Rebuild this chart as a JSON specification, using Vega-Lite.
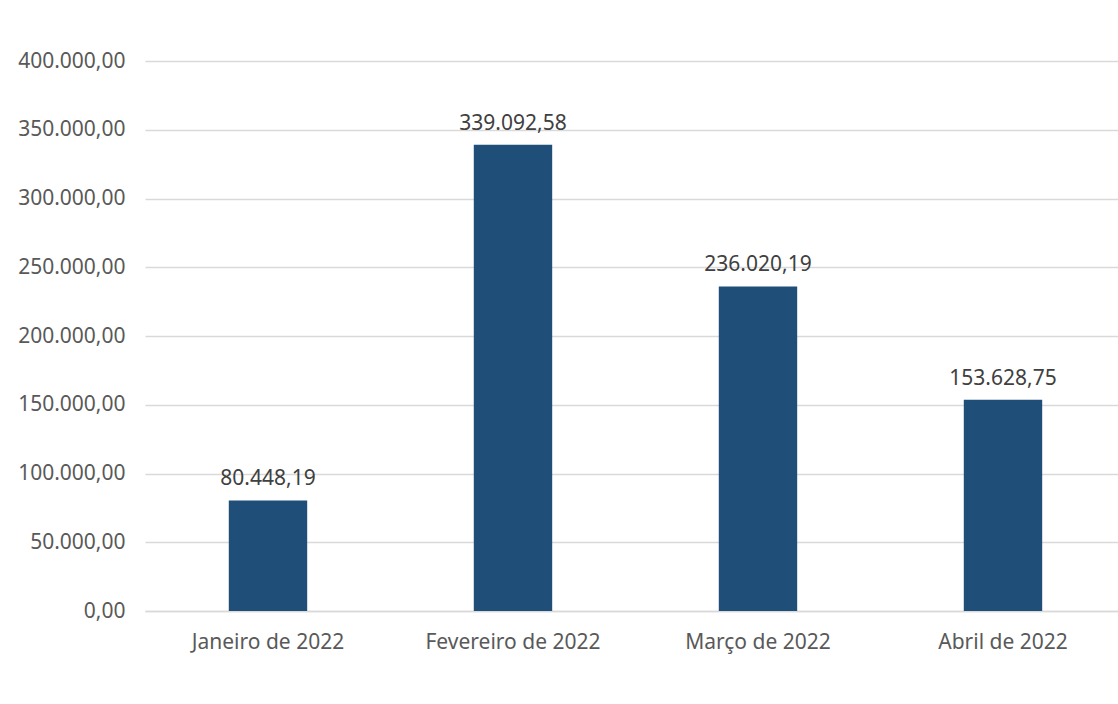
{
  "$schema": "https://vega.github.io/schema/vega-lite/v6.json",
  "autosize": {"type": "none"},
  "width": 973,
  "height": 550,
  "padding": {"left": 145, "top": 61, "right": 0, "bottom": 43},
  "background": "white",
  "config": {
    "locale": {"number": {"decimal": ",", "thousands": ".", "grouping": [3], "currency": ["R$ ", ""]}},
    "view": {"stroke": null},
    "font": "Noto Sans"
  },
  "data": {
    "values": [
      {"mes": "Janeiro de 2022", "valor": 80448.19},
      {"mes": "Fevereiro de 2022", "valor": 339092.58},
      {"mes": "Março de 2022", "valor": 236020.19},
      {"mes": "Abril de 2022", "valor": 153628.75}
    ]
  },
  "encoding": {
    "x": {
      "field": "mes", "type": "nominal", "sort": null,
      "scale": {"paddingInner": 0.68, "paddingOuter": 0.3257, "align": 0.525},
      "axis": {
        "title": null, "labelAngle": 0, "labelFont": "Noto Sans", "labelFontSize": 21,
        "labelColor": "#595959", "labelPadding": 20, "ticks": false,
        "domainColor": "#d9d9d9", "domainWidth": 1.5
      }
    },
    "y": {
      "field": "valor", "type": "quantitative",
      "scale": {"domain": [0, 400000], "nice": false},
      "axis": {
        "title": null, "values": [0, 50000, 100000, 150000, 200000, 250000, 300000, 350000, 400000],
        "format": ",.2f", "labelFont": "Noto Sans", "labelFontSize": 21, "labelColor": "#595959",
        "labelPadding": 20, "ticks": false, "domain": false,
        "grid": true, "gridColor": "#d9d9d9", "gridWidth": 1.5
      }
    }
  },
  "layer": [
    {"mark": {"type": "bar", "color": "#1f4e79"}},
    {
      "mark": {"type": "text", "baseline": "alphabetic", "dy": -15, "font": "Noto Sans", "fontSize": 21, "color": "#404040"},
      "encoding": {"text": {"field": "valor", "type": "quantitative", "format": ",.2f"}}
    }
  ]
}
